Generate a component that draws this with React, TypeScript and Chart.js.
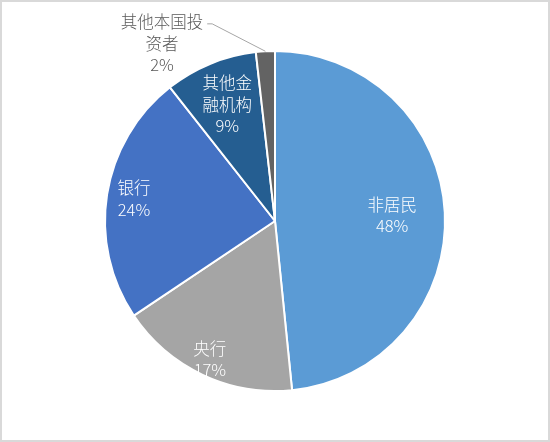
import React, { useEffect, useRef } from "react";
import { Chart, registerables } from "chart.js";

Chart.register(...registerables);

const categories = ["非居民", "央行", "银行", "其他金融机构", "其他本国投资者"];
const shares = [48.4, 17.2, 23.8, 8.8, 1.8];
const labelLines = [["非居民"], ["央行"], ["银行"], ["其他金", "融机构"], ["其他本国投", "资者"]];
const colors = ["#5B9BD5", "#A5A5A5", "#4472C4", "#255E91", "#636363"];

// radial fraction for inside labels; null = outside label
const labelRadius = [0.69, 0.9, 0.84, 0.74, null];

const FONT = '300 16.5px "Noto Sans CJK SC", "Microsoft YaHei", sans-serif';
const LINE_H = 21.5;

const labelPlugin = {
  id: "sliceLabels",
  afterDatasetsDraw(chart: any) {
    const ctx = chart.ctx;
    const meta = chart.getDatasetMeta(0);
    ctx.save();
    ctx.font = FONT;
    ctx.textAlign = "center";
    ctx.textBaseline = "middle";
    meta.data.forEach((arc: any, i: number) => {
      const p = arc.getProps(["x", "y", "startAngle", "endAngle", "outerRadius"], true);
      const mid = (p.startAngle + p.endAngle) / 2;
      const lines = [...labelLines[i], Math.round(shares[i]) + "%"];
      const rf = labelRadius[i];
      let cx: number, cy: number;
      if (rf !== null) {
        cx = p.x + Math.cos(mid) * p.outerRadius * rf;
        cy = p.y + Math.sin(mid) * p.outerRadius * rf;
        ctx.fillStyle = "#FFFFFF";
      } else {
        cx = p.x - 0.665 * p.outerRadius;
        cy = p.y - 1.045 * p.outerRadius;
        ctx.fillStyle = "#595959";
        // leader line
        const ax = p.x + Math.cos(mid) * p.outerRadius;
        const ay = p.y + Math.sin(mid) * p.outerRadius;
        const lineY = cy - LINE_H + 2;
        const firstW = ctx.measureText(lines[0]).width;
        const sx = cx + firstW / 2 + 4;
        ctx.strokeStyle = "#A6A6A6";
        ctx.lineWidth = 1;
        ctx.beginPath();
        ctx.moveTo(sx, lineY);
        ctx.lineTo(sx + 5, lineY);
        ctx.lineTo(ax, ay);
        ctx.stroke();
      }
      const top = cy - ((lines.length - 1) * LINE_H) / 2;
      lines.forEach((t, k) => ctx.fillText(t, cx, top + k * LINE_H));
    });
    ctx.restore();
  },
};

export default function App() {
  const ref = useRef<HTMLCanvasElement | null>(null);
  useEffect(() => {
    document.body.style.margin = "0";
    const chart = new Chart(ref.current as HTMLCanvasElement, {
      type: "pie",
      data: {
        labels: categories,
        datasets: [
          {
            data: shares,
            backgroundColor: colors,
            borderColor: "#FFFFFF",
            borderWidth: 2,
            radius: 170,
            hoverOffset: 0,
          } as any,
        ],
      },
      options: {
        animation: false,
        responsive: false,
        events: [],
        layout: { padding: 0 },
        plugins: { legend: { display: false }, tooltip: { enabled: false } },
      },
      plugins: [labelPlugin],
    });
    return () => chart.destroy();
  }, []);
  return (
    <div
      style={{
        width: 550,
        height: 442,
        boxSizing: "border-box",
        border: "2px solid #D9D9D9",
        background: "#FFFFFF",
      }}
    >
      <canvas ref={ref} width={546} height={438} style={{ display: "block", width: 546, height: 438 }} />
    </div>
  );
}
